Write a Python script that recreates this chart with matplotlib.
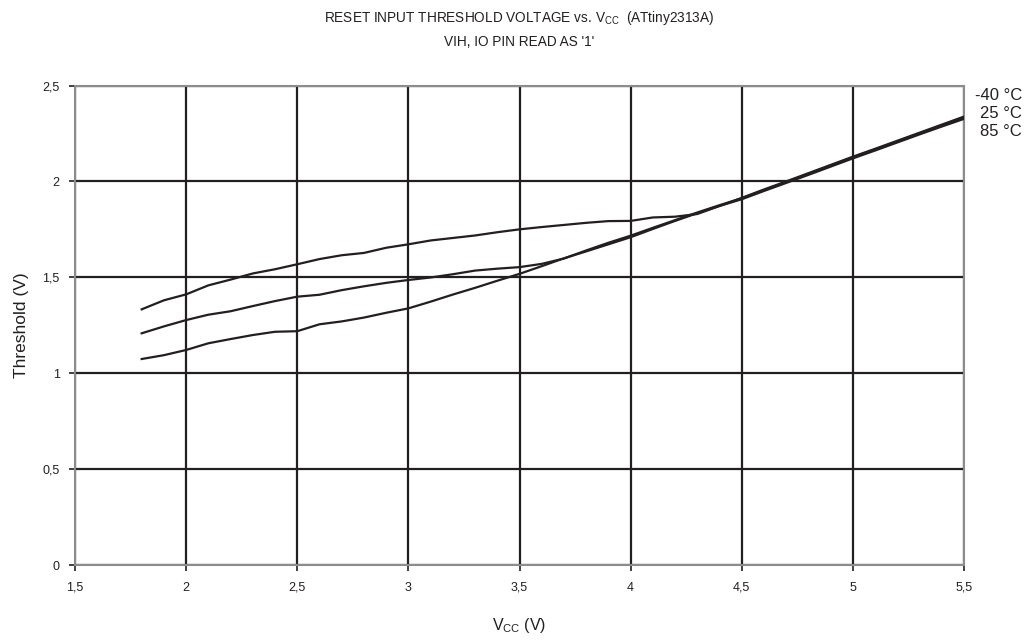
import matplotlib
matplotlib.use("Agg")
import matplotlib.pyplot as plt

# ---- data ----
vcc = [1.8, 1.9, 2.0, 2.1, 2.2, 2.3, 2.4, 2.5, 2.6, 2.7, 2.8, 2.9, 3.0, 3.1, 3.2,
       3.3, 3.4, 3.5, 3.6, 3.7, 3.8, 3.9, 4.0, 4.1, 4.2, 4.3, 4.4, 4.5, 4.6, 4.7,
       4.8, 4.9, 5.0, 5.1, 5.2, 5.3, 5.4, 5.5]

thr_m40 = [1.333, 1.380, 1.411, 1.458, 1.488, 1.520, 1.542, 1.568, 1.595, 1.615,
           1.627, 1.654, 1.672, 1.692, 1.705, 1.718, 1.735, 1.750, 1.762, 1.773,
           1.784, 1.793, 1.794, 1.812, 1.816, 1.830, 1.872, 1.914, 1.958, 2.000,
           2.043, 2.086, 2.129, 2.170, 2.212, 2.254, 2.296, 2.338]

thr_25 = [1.208, 1.244, 1.277, 1.305, 1.323, 1.350, 1.376, 1.399, 1.409, 1.433,
          1.453, 1.471, 1.486, 1.499, 1.516, 1.535, 1.545, 1.553, 1.570, 1.598,
          1.640, 1.680, 1.717, 1.758, 1.798, 1.838, 1.876, 1.912, 1.955, 1.996,
          2.039, 2.082, 2.125, 2.166, 2.208, 2.250, 2.291, 2.332]

thr_85 = [1.074, 1.094, 1.121, 1.156, 1.178, 1.199, 1.216, 1.219, 1.255, 1.270,
          1.290, 1.315, 1.338, 1.373, 1.410, 1.445, 1.482, 1.518, 1.558, 1.599,
          1.635, 1.672, 1.709, 1.752, 1.794, 1.834, 1.872, 1.907, 1.950, 1.992,
          2.034, 2.077, 2.120, 2.161, 2.203, 2.245, 2.286, 2.326]

series_labels = ["-40 °C", "25 °C", "85 °C"]

x_ticks = [1.5, 2.0, 2.5, 3.0, 3.5, 4.0, 4.5, 5.0, 5.5]
x_ticklabels = ["1,5", "2", "2,5", "3", "3,5", "4", "4,5", "5", "5,5"]
y_ticks = [0, 0.5, 1.0, 1.5, 2.0, 2.5]
y_ticklabels = ["0", "0,5", "1", "1,5", "2", "2,5"]

title_lines = ["RESET INPUT THRESHOLD VOLTAGE vs. V$_{\\mathregular{CC}}$  (ATtiny2313A)",
               "VIH, IO PIN READ AS '1'"]
x_label = "V$_{\\mathregular{CC}}$ (V)"
y_label = "Threshold (V)"

# ---- style ----
plt.rcParams["font.family"] = ["Liberation Sans", "DejaVu Sans"]
plt.rcParams["mathtext.fontset"] = "custom"
plt.rcParams["mathtext.rm"] = "Liberation Sans"
text_color = "#231f20"
line_color = "#231f20"
grid_color = "#231f20"
spine_color = "#8c8c8c"

W, H = 1033, 641
fig = plt.figure(figsize=(W / 100, H / 100), dpi=100)
ax = fig.add_axes([75 / W, (H - 565) / H, 889 / W, 479.5 / H])

for ys in (thr_m40, thr_25, thr_85):
    ax.plot(vcc, ys, color=line_color, lw=1.6, solid_joinstyle="round", zorder=3)

ax.set_xlim(1.5, 5.5)
ax.set_ylim(0, 2.5)
ax.set_xticks(x_ticks)
ax.set_xticklabels(x_ticklabels)
ax.set_yticks(y_ticks)
ax.set_yticklabels(y_ticklabels)
ax.grid(True, color=grid_color, lw=1.6, zorder=1)
for s in ax.spines.values():
    s.set_color(spine_color)
    s.set_linewidth(1.5)
    s.set_zorder(2)
ax.tick_params(direction="out", length=4, width=1.2, color=text_color,
               labelcolor=text_color, labelsize=9)
ax.tick_params(axis="x", pad=8)
ax.tick_params(axis="y", pad=7)

ax.set_xlabel(x_label, fontsize=11.5, color=text_color, labelpad=16)
ax.set_ylabel(y_label, fontsize=12.5, color=text_color, labelpad=10)

fig.text(519 / W, 1 - 18 / H, title_lines[0], ha="center", va="center",
         fontsize=9.8, color=text_color)
fig.text(519 / W, 1 - 42 / H, title_lines[1], ha="center", va="center",
         fontsize=9.8, color=text_color)

for i, lab in enumerate(series_labels):
    fig.text(1022 / W, 1 - (95 + 18 * i) / H, lab, ha="right", va="center",
             fontsize=12, color=text_color)

fig.savefig("out.png", dpi=100, facecolor="white")
